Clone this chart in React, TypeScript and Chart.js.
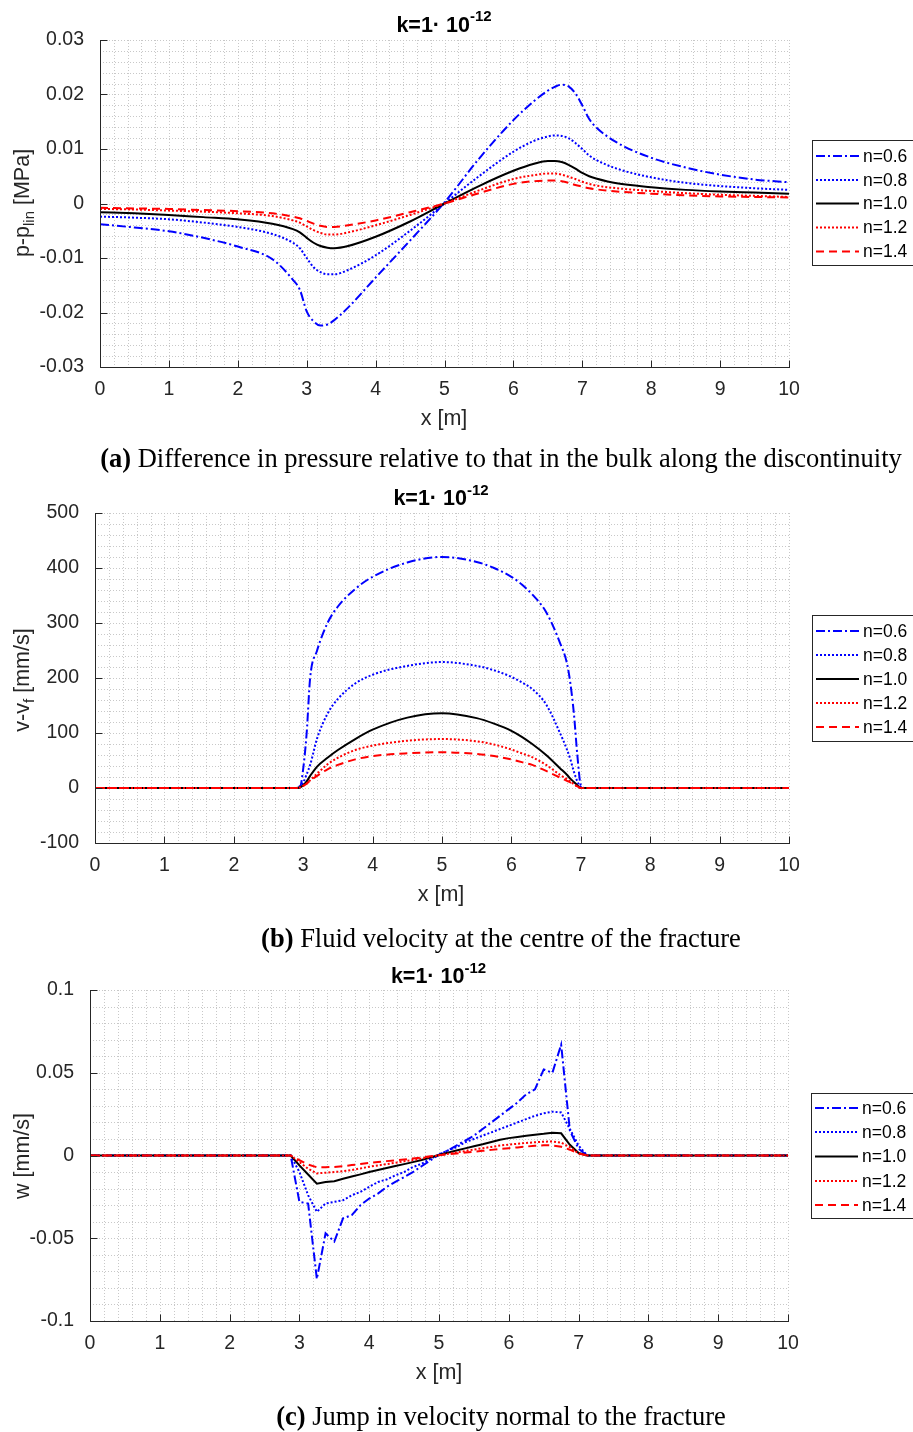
import React, { useEffect, useRef } from 'react';
import { Chart, registerables } from 'chart.js';

Chart.register(...registerables);

const SANS = "'Liberation Sans', Arial, Helvetica, sans-serif";
const SERIF = "'Liberation Serif', 'Times New Roman', serif";
const AXIS_COLOR = '#262626';
const GRID_COLOR = '#c8c8c8';
const LINE_W = 2;
const PAGE_W = 913;

// ---------- series styling ----------
const seriesLabels = ['n=0.6', 'n=0.8', 'n=1.0', 'n=1.2', 'n=1.4'];
const seriesColors = ['#0000ff', '#0000ff', '#000000', '#ff0000', '#ff0000'];
const seriesDashes: number[][] = [[9, 3, 2, 3], [2, 2], [], [2, 2], [8, 5]];

// ---------- shared x ticks ----------
const xTickValues = [0, 1, 2, 3, 4, 5, 6, 7, 8, 9, 10];
const xTickLabels = ['0', '1', '2', '3', '4', '5', '6', '7', '8', '9', '10'];

// ---------- (a) pressure difference ----------
const xA = [0, 0.5, 1, 1.5, 2, 2.5, 2.8, 2.9, 3.0, 3.1, 3.2, 3.3, 3.4, 3.6, 4.0, 4.5, 5.0, 5.5, 6.0, 6.3, 6.5, 6.6, 6.7, 6.8, 6.9, 7.0, 7.1, 7.2, 7.5, 8.0, 8.5, 9.0, 9.5, 10];
const pA06 = [-0.0038, -0.0044, -0.0051, -0.0063, -0.0079, -0.0102, -0.0140, -0.0158, -0.0198, -0.0216, -0.0224, -0.0222, -0.0214, -0.0191, -0.0136, -0.0068, 0.0002, 0.0082, 0.0153, 0.0188, 0.0207, 0.0214, 0.0218, 0.0215, 0.0202, 0.0180, 0.0155, 0.0140, 0.0112, 0.0084, 0.0066, 0.0053, 0.0044, 0.0039];
const pA08 = [-0.0024, -0.0026, -0.0029, -0.0035, -0.0043, -0.0056, -0.0072, -0.0082, -0.0100, -0.0117, -0.0126, -0.0130, -0.0130, -0.0122, -0.0095, -0.0050, 0.0000, 0.0050, 0.0095, 0.0115, 0.0123, 0.0125, 0.0124, 0.0120, 0.0111, 0.0100, 0.0088, 0.0080, 0.0064, 0.0048, 0.0038, 0.0032, 0.0028, 0.0025];
const pA10 = [-0.0016, -0.0018, -0.0021, -0.0025, -0.0029, -0.0037, -0.0047, -0.0053, -0.0063, -0.0072, -0.0078, -0.0081, -0.0082, -0.0078, -0.0061, -0.0033, 0.0000, 0.0032, 0.0060, 0.0073, 0.0078, 0.0078, 0.0076, 0.0071, 0.0064, 0.0056, 0.0050, 0.0046, 0.0037, 0.0030, 0.0025, 0.0022, 0.0020, 0.0018];
const pA12 = [-0.0010, -0.0011, -0.0013, -0.0015, -0.0018, -0.0023, -0.0031, -0.0035, -0.0042, -0.0049, -0.0054, -0.0057, -0.0057, -0.0053, -0.0040, -0.0021, 0.0000, 0.0024, 0.0045, 0.0052, 0.0055, 0.0055, 0.0053, 0.0049, 0.0045, 0.0040, 0.0036, 0.0033, 0.0028, 0.0023, 0.0019, 0.0016, 0.0014, 0.0012];
const pA14 = [-0.0008, -0.0009, -0.0010, -0.0012, -0.0014, -0.0018, -0.0024, -0.0027, -0.0032, -0.0037, -0.0041, -0.0043, -0.0043, -0.0040, -0.0031, -0.0016, 0.0000, 0.0019, 0.0036, 0.0041, 0.0042, 0.0042, 0.0041, 0.0038, 0.0034, 0.0031, 0.0028, 0.0026, 0.0022, 0.0018, 0.0015, 0.0013, 0.0012, 0.0011];
const yTicksA = [-0.03, -0.02, -0.01, 0, 0.01, 0.02, 0.03];
const yTickLabelsA = ['-0.03', '-0.02', '-0.01', '0', '0.01', '0.02', '0.03'];

// ---------- (b) fluid velocity ----------
const xB = [0, 2.85, 2.9, 2.95, 3.0, 3.05, 3.1, 3.2, 3.35, 3.5, 3.75, 4.0, 4.5, 5.0, 5.5, 5.75, 6.0, 6.15, 6.3, 6.5, 6.7, 6.8, 6.85, 6.9, 6.95, 7.0, 7.05, 10];
const vB06 = [0, 0, 0, 0, 35, 100, 200, 250, 300, 330, 362, 384, 410, 420, 411, 400, 384, 370, 352, 320, 264, 227, 190, 136, 60, 5, 0, 0];
const vB08 = [0, 0, 0, 3, 10, 25, 42, 90, 135, 162, 190, 206, 222, 229, 222, 214, 202, 192, 180, 152, 100, 70, 52, 30, 12, 2, 0, 0];
const vB10 = [0, 0, 0, 1, 5, 12, 22, 39, 55, 69, 89, 106, 128, 136, 127, 117, 104, 93, 80, 60, 36, 24, 17, 11, 5, 0, 0, 0];
const vB12 = [0, 0, 0, 1, 4, 8, 14, 26, 43, 55, 69, 77, 86, 89, 85, 79, 70, 63, 56, 42, 24, 16, 12, 7, 3, 0, 0, 0];
const vB14 = [0, 0, 0, 1, 4, 8, 13, 22, 34, 42, 52, 58, 63, 65, 62, 58, 52, 47, 42, 31, 19, 13, 10, 6, 3, 0, 0, 0];
const yTicksB = [-100, 0, 100, 200, 300, 400, 500];
const yTickLabelsB = ['-100', '0', '100', '200', '300', '400', '500'];

// ---------- (c) normal velocity jump ----------
const xC = [0, 2.875, 3, 3.125, 3.25, 3.375, 3.5, 3.625, 3.75, 3.875, 4, 4.125, 4.25, 4.375, 4.5, 4.625, 4.75, 4.875, 5, 5.125, 5.25, 5.375, 5.5, 5.625, 5.75, 5.875, 6, 6.125, 6.25, 6.375, 6.5, 6.625, 6.75, 6.875, 7, 7.125, 10];
const wC06 = [0, 0, -0.028, -0.029, -0.0746, -0.047, -0.052, -0.038, -0.036, -0.030, -0.026, -0.023, -0.019, -0.016, -0.013, -0.010, -0.0065, -0.003, 0.0005, 0.003, 0.006, 0.009, 0.012, 0.016, 0.020, 0.024, 0.028, 0.032, 0.037, 0.040, 0.052, 0.050, 0.067, 0.015, 0.004, 0, 0];
const wC08 = [0, 0, -0.010, -0.024, -0.034, -0.029, -0.028, -0.027, -0.024, -0.022, -0.019, -0.016, -0.0145, -0.012, -0.010, -0.007, -0.005, -0.002, 0.0005, 0.003, 0.005, 0.008, 0.010, 0.012, 0.014, 0.016, 0.018, 0.020, 0.022, 0.024, 0.0255, 0.0265, 0.026, 0.016, 0.006, 0, 0];
const wC10 = [0, 0, -0.006, -0.0115, -0.017, -0.016, -0.0155, -0.014, -0.0127, -0.0114, -0.010, -0.0088, -0.0076, -0.0064, -0.0052, -0.004, -0.0027, -0.0012, 0.0003, 0.0017, 0.003, 0.0043, 0.0056, 0.0068, 0.0082, 0.0095, 0.0105, 0.0112, 0.012, 0.0126, 0.0131, 0.0138, 0.0134, 0.0065, 0.0015, 0, 0];
const wC12 = [0, 0, -0.004, -0.008, -0.0108, -0.0104, -0.010, -0.0095, -0.0088, -0.0078, -0.0068, -0.006, -0.0052, -0.0044, -0.0035, -0.0027, -0.0018, -0.0008, 0.0002, 0.001, 0.0018, 0.0027, 0.0036, 0.0044, 0.0052, 0.006, 0.0066, 0.0071, 0.0076, 0.008, 0.0083, 0.0085, 0.0078, 0.005, 0.0012, 0, 0];
const wC14 = [0, 0, -0.0028, -0.0055, -0.0071, -0.0071, -0.0069, -0.0065, -0.0058, -0.0051, -0.0045, -0.004, -0.0034, -0.0029, -0.0024, -0.0018, -0.0012, -0.0005, 0.0002, 0.0007, 0.0012, 0.0018, 0.0023, 0.0028, 0.0034, 0.004, 0.0044, 0.0049, 0.0054, 0.0059, 0.0062, 0.0061, 0.0053, 0.0035, 0.0012, 0, 0];
const yTicksC = [-0.1, -0.05, 0, 0.05, 0.1];
const yTickLabelsC = ['-0.1', '-0.05', '0', '0.05', '0.1'];

// ---------- texts ----------
const titleMain = 'k=1\u00B7 10';
const titleSup = '-12';
const xAxisLabel = 'x [m]';

type Part = { t: string; size: number; bold?: boolean; dy?: number };

type PanelCfg = {
  top: number;
  height: number;
  area: { l: number; r: number; t: number; b: number };
  x: number[];
  ys: number[][];
  yMin: number;
  yMax: number;
  yTicks: number[];
  yTickLabels: string[];
  yMinor: number;
  xMinor: number;
  smooth: boolean;
  title: { cx: number; base: number };
  xLabel: { cx: number; base: number };
  yLabel: { x: number; cy: number; parts: Part[] };
  legend: { l: number; t: number; b: number; rows: number[] };
};

const panelA: PanelCfg = {
  top: 0, height: 476,
  area: { l: 100, r: 789, t: 40, b: 367 },
  x: xA, ys: [pA06, pA08, pA10, pA12, pA14],
  yMin: -0.03, yMax: 0.03, yTicks: yTicksA, yTickLabels: yTickLabelsA,
  yMinor: 0.002, xMinor: 0.2, smooth: true,
  title: { cx: 444, base: 31.5 },
  xLabel: { cx: 444, base: 424.5 },
  yLabel: { x: 29, cy: 203, parts: [{ t: 'p-p', size: 21.5 }, { t: 'lin', size: 15, dy: 5 }, { t: ' [MPa]', size: 21.5 }] },
  legend: { l: 812, t: 140, b: 265, rows: [156, 180, 203.5, 227.5, 251.5] },
};

const panelB: PanelCfg = {
  top: 476, height: 476,
  area: { l: 95, r: 789, t: 37, b: 367 },
  x: xB, ys: [vB06, vB08, vB10, vB12, vB14],
  yMin: -100, yMax: 500, yTicks: yTicksB, yTickLabels: yTickLabelsB,
  yMinor: 20, xMinor: 0.2, smooth: true,
  title: { cx: 441, base: 29 },
  xLabel: { cx: 441, base: 425 },
  yLabel: { x: 29, cy: 204, parts: [{ t: 'v-v', size: 21.5 }, { t: 'f', size: 15, dy: 5 }, { t: ' [mm/s]', size: 21.5 }] },
  legend: { l: 812, t: 139, b: 265, rows: [155, 179, 203, 227, 251] },
};

const panelC: PanelCfg = {
  top: 952, height: 480,
  area: { l: 90, r: 788, t: 38, b: 369 },
  x: xC, ys: [wC06, wC08, wC10, wC12, wC14],
  yMin: -0.1, yMax: 0.1, yTicks: yTicksC, yTickLabels: yTickLabelsC,
  yMinor: 0.01, xMinor: 0.2, smooth: false,
  title: { cx: 438.5, base: 31 },
  xLabel: { cx: 439, base: 427 },
  yLabel: { x: 29, cy: 204, parts: [{ t: 'w [mm/s]', size: 21.5 }] },
  legend: { l: 811, t: 141, b: 266, rows: [156, 180, 204.5, 229, 253] },
};

const captions = [
  { base: 467, label: '(a)', text: ' Difference in pressure relative to that in the bulk along the discontinuity' },
  { base: 947, label: '(b)', text: ' Fluid velocity at the centre of the fracture' },
  { base: 1425, label: '(c)', text: ' Jump in velocity normal to the fracture' },
];

function partFont(p: Part) {
  return `${p.bold ? 'bold ' : ''}${p.size}px ${SANS}`;
}
function richWidth(ctx: CanvasRenderingContext2D, parts: Part[]) {
  let w = 0;
  for (const p of parts) {
    ctx.font = partFont(p);
    w += ctx.measureText(p.t).width;
  }
  return w;
}
function drawRich(ctx: CanvasRenderingContext2D, parts: Part[], x0: number, base: number) {
  let x = x0;
  for (const p of parts) {
    ctx.font = partFont(p);
    ctx.fillText(p.t, x, base + (p.dy || 0));
    x += ctx.measureText(p.t).width;
  }
}

function makeDecor(cfg: PanelCfg) {
  return {
    id: 'matlabDecor',
    beforeDatasetsDraw(chart: any) {
      const { ctx, chartArea: a } = chart;
      const xs = chart.scales.x;
      const ys = chart.scales.y;
      ctx.save();
      ctx.lineWidth = 1;
      ctx.strokeStyle = GRID_COLOR;
      ctx.setLineDash([1, 2]);
      const nx = Math.round(10 / cfg.xMinor);
      for (let i = 0; i <= nx; i++) {
        const px = Math.round(xs.getPixelForValue(i * cfg.xMinor)) + 0.5;
        ctx.beginPath();
        ctx.moveTo(px, a.top);
        ctx.lineTo(px, a.bottom);
        ctx.stroke();
      }
      const ny = Math.round((cfg.yMax - cfg.yMin) / cfg.yMinor);
      for (let j = 0; j <= ny; j++) {
        const py = Math.round(ys.getPixelForValue(cfg.yMin + j * cfg.yMinor)) + 0.5;
        ctx.beginPath();
        ctx.moveTo(a.left, py);
        ctx.lineTo(a.right, py);
        ctx.stroke();
      }
      ctx.restore();
    },
    afterDatasetsDraw(chart: any) {
      const { ctx, chartArea: a } = chart;
      const xs = chart.scales.x;
      const ys = chart.scales.y;
      ctx.save();
      ctx.setLineDash([]);
      ctx.strokeStyle = AXIS_COLOR;
      ctx.lineWidth = 1;
      const L = Math.round(a.left) + 0.5;
      const B = Math.round(a.bottom) + 0.5;
      ctx.beginPath();
      ctx.moveTo(L, Math.round(a.top));
      ctx.lineTo(L, B);
      ctx.lineTo(Math.round(a.right) + 1, B);
      ctx.stroke();
      for (const v of xTickValues) {
        const px = Math.round(xs.getPixelForValue(v)) + 0.5;
        ctx.beginPath();
        ctx.moveTo(px, B);
        ctx.lineTo(px, B - 7);
        ctx.stroke();
      }
      for (const v of cfg.yTicks) {
        const py = Math.round(ys.getPixelForValue(v)) + 0.5;
        ctx.beginPath();
        ctx.moveTo(L, py);
        ctx.lineTo(L + 7, py);
        ctx.stroke();
      }
      ctx.restore();
    },
    afterDraw(chart: any) {
      const ctx: CanvasRenderingContext2D = chart.ctx;
      ctx.save();
      ctx.setLineDash([]);
      ctx.textBaseline = 'alphabetic';
      ctx.textAlign = 'left';
      // title
      ctx.fillStyle = '#000';
      const tParts: Part[] = [
        { t: titleMain, size: 21.5, bold: true },
        { t: titleSup, size: 15, bold: true, dy: -10.5 },
      ];
      const tw = richWidth(ctx, tParts);
      drawRich(ctx, tParts, cfg.title.cx - tw / 2, cfg.title.base);
      // x label
      ctx.fillStyle = AXIS_COLOR;
      const xParts: Part[] = [{ t: xAxisLabel, size: 21.5 }];
      const xw = richWidth(ctx, xParts);
      drawRich(ctx, xParts, cfg.xLabel.cx - xw / 2, cfg.xLabel.base);
      // y label (rotated)
      const yw = richWidth(ctx, cfg.yLabel.parts);
      ctx.save();
      ctx.translate(cfg.yLabel.x, cfg.yLabel.cy);
      ctx.rotate(-Math.PI / 2);
      drawRich(ctx, cfg.yLabel.parts, -yw / 2, 0);
      ctx.restore();
      // legend
      const lg = cfg.legend;
      const right = PAGE_W + 4;
      ctx.fillStyle = '#ffffff';
      ctx.fillRect(lg.l, lg.t, right - lg.l, lg.b - lg.t);
      ctx.strokeStyle = AXIS_COLOR;
      ctx.lineWidth = 1;
      ctx.strokeRect(lg.l + 0.5, lg.t + 0.5, right - lg.l, lg.b - lg.t);
      seriesLabels.forEach((lab, i) => {
        const yy = lg.rows[i];
        ctx.save();
        ctx.strokeStyle = seriesColors[i];
        ctx.lineWidth = LINE_W;
        ctx.setLineDash(seriesDashes[i]);
        ctx.beginPath();
        ctx.moveTo(lg.l + 4, yy);
        ctx.lineTo(lg.l + 47, yy);
        ctx.stroke();
        ctx.restore();
        ctx.fillStyle = '#000';
        ctx.font = `17.5px ${SANS}`;
        ctx.textBaseline = 'middle';
        ctx.fillText(lab, lg.l + 51, yy + 1);
        ctx.textBaseline = 'alphabetic';
      });
      ctx.restore();
    },
  };
}

function Panel({ cfg }: { cfg: PanelCfg }) {
  const ref = useRef<HTMLCanvasElement>(null);
  useEffect(() => {
    const canvas = ref.current;
    if (!canvas) return;
    const a = cfg.area;
    const datasets = cfg.ys.map((vals, i) => ({
      label: seriesLabels[i],
      data: cfg.x.map((xv, k) => ({ x: xv, y: vals[k] })),
      borderColor: seriesColors[i],
      backgroundColor: seriesColors[i],
      borderWidth: LINE_W,
      borderDash: seriesDashes[i],
      pointRadius: 0,
      fill: false,
      tension: cfg.smooth ? 0.4 : 0,
      cubicInterpolationMode: cfg.smooth ? ('monotone' as const) : ('default' as const),
      order: 5 - i,
    }));
    const tickFont = { family: SANS, size: 19.5 };
    const chart = new Chart(canvas, {
      type: 'line',
      data: { datasets },
      plugins: [makeDecor(cfg)],
      options: {
        animation: false,
        responsive: false,
        devicePixelRatio: 1,
        events: [],
        layout: { padding: { left: 0, top: a.t, right: PAGE_W - a.r, bottom: 0 } },
        plugins: {
          legend: { display: false },
          title: { display: false },
          tooltip: { enabled: false },
        },
        scales: {
          x: {
            type: 'linear',
            min: 0,
            max: 10,
            grid: { display: false },
            border: { display: false },
            afterBuildTicks: (s: any) => {
              s.ticks = xTickValues.map((v) => ({ value: v }));
            },
            afterFit: (s: any) => {
              s.height = cfg.height - a.b;
            },
            ticks: {
              font: tickFont,
              color: AXIS_COLOR,
              padding: 3,
              maxRotation: 0,
              autoSkip: false,
              callback: (_v: any, i: number) => xTickLabels[i],
            },
          },
          y: {
            type: 'linear',
            min: cfg.yMin,
            max: cfg.yMax,
            grid: { display: false },
            border: { display: false },
            afterBuildTicks: (s: any) => {
              s.ticks = cfg.yTicks.map((v) => ({ value: v }));
            },
            afterFit: (s: any) => {
              s.width = a.l;
            },
            ticks: {
              font: tickFont,
              color: AXIS_COLOR,
              padding: 8,
              autoSkip: false,
              callback: (_v: any, i: number) => cfg.yTickLabels[i],
            },
          },
        },
      } as any,
    });
    return () => chart.destroy();
  }, [cfg]);
  return (
    <canvas
      ref={ref}
      width={PAGE_W}
      height={cfg.height}
      style={{ position: 'absolute', left: 0, top: cfg.top, width: PAGE_W, height: cfg.height, display: 'block' }}
    />
  );
}

export default function App() {
  const capSize = 26.5;
  return (
    <div style={{ position: 'absolute', left: 0, top: 0, width: PAGE_W, height: 1432, background: '#fff', overflow: 'hidden' }}>
      <Panel cfg={panelA} />
      <Panel cfg={panelB} />
      <Panel cfg={panelC} />
      {captions.map((c) => (
        <div
          key={c.label}
          style={{
            position: 'absolute',
            left: 0,
            top: c.base - 22.2,
            width: 1002,
            textAlign: 'center',
            fontFamily: SERIF,
            fontSize: capSize,
            lineHeight: `${capSize}px`,
            whiteSpace: 'nowrap',
            color: '#000',
          }}
        >
          <b>{c.label}</b>
          {c.text}
        </div>
      ))}
    </div>
  );
}
